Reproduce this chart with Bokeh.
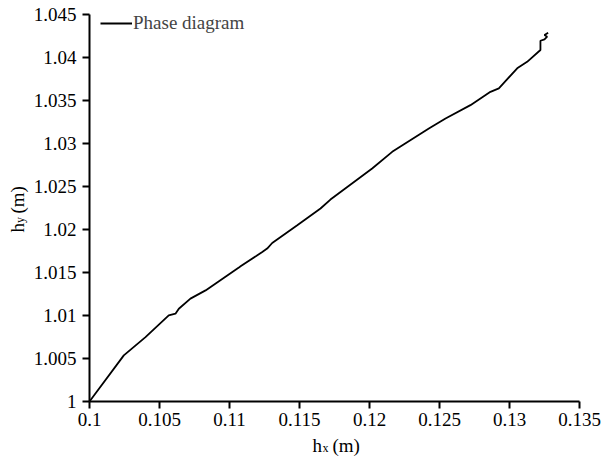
import math
from bokeh.plotting import figure
from bokeh.models import (Range1d, FixedTicker, Legend, LegendItem, Label)
from bokeh.embed import file_html
from bokeh.resources import INLINE

# ---- data ----
hx = [0.1000, 0.10245, 0.1040, 0.10566, 0.10614, 0.10638, 0.10721, 0.10829,
      0.11067, 0.11079, 0.11234, 0.11269, 0.11305, 0.11484, 0.11650, 0.11721,
      0.12019, 0.12162, 0.12424, 0.12543, 0.12721, 0.12864, 0.12924, 0.13055,
      0.13126, 0.13221, 0.13221, 0.13250, 0.13269, 0.13250, 0.13276]
hy = [1.0000, 1.00536, 1.00749, 1.01001, 1.01021, 1.01079, 1.01196, 1.01292,
      1.01557, 1.01572, 1.01738, 1.01778, 1.01843, 1.02049, 1.02244, 1.02348,
      1.02709, 1.02903, 1.03175, 1.03291, 1.03446, 1.03601, 1.03641, 1.03874,
      1.03950, 1.04087, 1.04195, 1.04211, 1.04242, 1.04261, 1.04288]

x_ticks = [0.1, 0.105, 0.11, 0.115, 0.12, 0.125, 0.13, 0.135]
x_tick_labels = ["0.1", "0.105", "0.11", "0.115", "0.12", "0.125", "0.13", "0.135"]
y_ticks = [1.0, 1.005, 1.01, 1.015, 1.02, 1.025, 1.03, 1.035, 1.04, 1.045]
y_tick_labels = ["1", "1.005", "1.01", "1.015", "1.02", "1.025", "1.03", "1.035", "1.04", "1.045"]

FONT = "Liberation Serif"

W, H = 602, 456
L, R, T, B = 89, 23, 14, 55          # pixel margins around the axes box
x0, x1 = x_ticks[0], x_ticks[-1]
y0, y1 = y_ticks[0], y_ticks[-1]
sx = (x1 - x0) / (W - L - R)
sy = (y1 - y0) / (H - T - B)

p = figure(width=W, height=H, output_backend="svg", toolbar_location=None,
           x_range=Range1d(x0 - L * sx, x1 + R * sx),
           y_range=Range1d(y0 - B * sy, y1 + T * sy),
           min_border_left=0, min_border_right=0, min_border_top=0, min_border_bottom=0)
p.title.visible = False
p.outline_line_color = None
p.xgrid.visible = False
p.ygrid.visible = False
p.background_fill_color = "white"
p.border_fill_color = "white"

for ax, ticks, labels, loc in ((p.xaxis[0], x_ticks, x_tick_labels, y0),
                               (p.yaxis[0], y_ticks, y_tick_labels, x0)):
    ax.fixed_location = loc
    ax.bounds = (ticks[0], ticks[-1])
    ax.ticker = FixedTicker(ticks=ticks)
    ax.major_label_overrides = {t: l for t, l in zip(ticks, labels)}
    ax.axis_line_width = 2
    ax.axis_line_color = "black"
    ax.major_tick_line_width = 2
    ax.major_tick_line_color = "black"
    ax.major_tick_in = 0
    ax.major_tick_out = 7
    ax.minor_tick_line_color = None
    ax.major_label_text_font = FONT
    ax.major_label_text_font_size = "19px"
    ax.major_label_text_color = "black"
p.xaxis[0].major_label_standoff = 4
p.yaxis[0].major_label_standoff = 6

r = p.line(hx, hy, line_color="black", line_width=1.8)

legend = Legend(items=[LegendItem(label="Phase diagram", renderers=[r])],
                location=(L + 11, H - T - 20), padding=0, margin=0, spacing=0,
                glyph_width=32, glyph_height=20, label_height=20, label_standoff=1,
                label_text_font=FONT, label_text_font_size="19px",
                border_line_color=None, background_fill_alpha=0)
p.add_layout(legend)

# axis titles with subscripts, anchored at the origin of the axes
def lab(text, dx, dy, size, angle=0.0):
    p.add_layout(Label(x=x0, y=y0, x_offset=dx, y_offset=dy, text=text,
                       text_font=FONT, text_font_size=size, text_color="black",
                       text_align="left", text_baseline="alphabetic", angle=angle))

lab("h", 223, -44, "19px")
lab("x", 233, -46, "12px")
lab("(m)", 243, -44, "19px")

lab("h", -72, 169, "19px", math.pi / 2)
lab("y", -70, 178.5, "12px", math.pi / 2)
lab("(m)", -72, 188, "19px", math.pi / 2)

open("out.html", "w").write(file_html(p, INLINE))
